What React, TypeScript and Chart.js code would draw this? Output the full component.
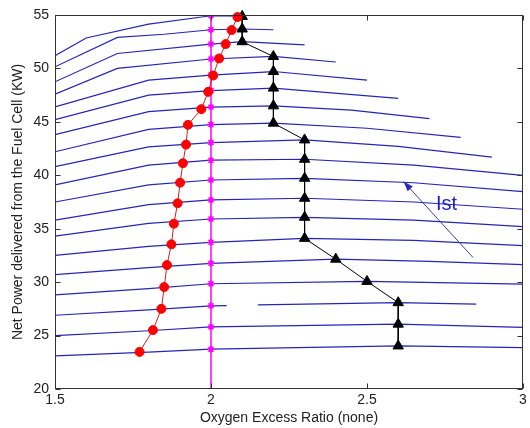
import React, { useEffect, useRef } from "react";
import { Chart, registerables } from "chart.js";

Chart.register(...registerables);

// ---- axes ----
const xTicks = [1.5, 2, 2.5, 3];
const yTicks = [20, 25, 30, 35, 40, 45, 50, 55];
const xTitle = "Oxygen Excess Ratio (none)";
const yTitle = "Net Power delivered from the Fuel Cell (KW)";

// ---- blue curves: one per stack current level, [oxygen ratio, net power] ----
const ist01 = [[1.5, 51.2], [1.6, 52.85], [1.8, 54.15], [2.0, 54.93], [2.1, 54.9]];
const ist02 = [[1.5, 50.15], [1.7, 52.9], [1.85, 53.2], [2.0, 53.62], [2.1, 53.69], [2.2, 53.62]];
const ist03 = [[1.5, 48.75], [1.7, 51.4], [2.0, 52.28], [2.1, 52.5], [2.3, 52.2]];
const ist04 = [[1.5, 47.6], [1.7, 50.0], [2.0, 50.88], [2.2, 51.12], [2.4, 50.6]];
const ist05 = [[1.5, 46.4], [1.8, 48.9], [2.0, 49.38], [2.2, 49.71], [2.5, 48.9]];
const ist06 = [[1.5, 45.2], [1.8, 47.5], [2.0, 47.93], [2.2, 48.16], [2.6, 47.2]];
const ist07 = [[1.5, 43.8], [1.8, 45.95], [2.0, 46.38], [2.2, 46.5], [2.45, 46.1], [2.7, 45.3]];
const ist08 = [[1.5, 42.2], [1.8, 44.3], [2.0, 44.75], [2.2, 44.88], [2.5, 44.4], [2.8, 43.55]];
const ist09 = [[1.5, 40.8], [1.8, 42.65], [2.0, 43.06], [2.3, 43.31], [2.6, 42.7], [2.9, 41.7]];
const ist10 = [[1.5, 39.1], [1.8, 40.95], [2.0, 41.41], [2.3, 41.5], [2.65, 40.95], [3.0, 40.0]];
const ist11 = [[1.5, 37.5], [1.8, 39.1], [2.0, 39.56], [2.3, 39.72], [2.65, 39.3], [3.0, 38.47]];
const ist12 = [[1.5, 35.8], [1.8, 37.25], [2.0, 37.69], [2.3, 37.85], [2.65, 37.5], [3.0, 36.82]];
const ist13 = [[1.5, 34.3], [1.8, 35.5], [2.0, 35.91], [2.3, 36.07], [2.65, 35.8], [3.0, 35.19]];
const ist14 = [[1.5, 32.5], [1.8, 33.35], [2.0, 33.73], [2.3, 34.1], [2.65, 33.9], [3.0, 33.41]];
const ist15 = [[1.5, 30.7], [1.8, 31.35], [2.0, 31.76], [2.4, 32.15], [2.7, 31.95], [3.0, 31.63]];
const ist16 = [[1.5, 28.8], [1.8, 29.4], [2.0, 29.85], [2.5, 30.07], [3.0, 29.82]];
const ist17 = [[1.5, 26.9], [1.8, 27.4], [2.0, 27.78], [2.05, 27.8], [2.1, null], [2.15, 27.88], [2.6, 28.08], [2.85, 27.94]];
const ist18 = [[1.5, 25.0], [1.8, 25.45], [2.0, 25.81], [2.6, 26.07], [3.0, 25.76]];
const ist19 = [[1.5, 23.1], [1.8, 23.45], [2.0, 23.73], [2.6, 24.03], [3.0, 23.88]];
const powerCurves = [ist01, ist02, ist03, ist04, ist05, ist06, ist07, ist08, ist09, ist10,
  ist11, ist12, ist13, ist14, ist15, ist16, ist17, ist18, ist19];

// ---- red circles ----
const redX = [2.085, 2.066, 2.047, 2.026, 2.007, 1.991, 1.969, 1.926, 1.92, 1.91,
  1.901, 1.893, 1.881, 1.873, 1.859, 1.85, 1.841, 1.814, 1.771];
const redY = [54.81, 53.59, 52.28, 50.93, 49.34, 47.81, 46.19, 44.72, 42.87, 41.13,
  39.31, 37.38, 35.47, 33.54, 31.6, 29.54, 27.5, 25.51, 23.47];

// ---- magenta stars at ratio 2 ----
const magentaX = 2;
const magentaLineY = [20, 55];
const magentaY = [54.93, 53.62, 52.28, 50.88, 49.38, 47.93, 46.38, 44.75, 43.06, 41.41,
  39.56, 37.69, 35.91, 33.73, 31.76, 29.85, 27.78, 25.81, 23.73];

// ---- black triangles (maximum net power) ----
const triX = [2.1, 2.1, 2.1, 2.2, 2.2, 2.2, 2.2, 2.2, 2.3, 2.3,
  2.3, 2.3, 2.3, 2.3, 2.4, 2.5, 2.6, 2.6, 2.6];
const triY = [54.87, 53.69, 52.5, 51.12, 49.71, 48.16, 46.5, 44.88, 43.31, 41.5,
  39.72, 37.85, 36.07, 34.1, 32.15, 30.07, 28.08, 26.07, 24.03];

// ---- annotation ----
const arrowTail = [2.84, 32.3];
const arrowTip = [2.617, 39.42];
const labelPos = [2.755, 37.24];
const labelText = "Ist";

const FONT = "'Liberation Sans', Arial, Helvetica, sans-serif";

const framePlugin = {
  id: "frame",
  afterDatasetsDraw(chart: any) {
    const { ctx, chartArea: a, scales } = chart;
    const xs = scales.x;
    const ys = scales.y;
    ctx.save();
    // arrow annotation
    const tx = xs.getPixelForValue(arrowTail[0]);
    const ty = ys.getPixelForValue(arrowTail[1]);
    const hx = xs.getPixelForValue(arrowTip[0]);
    const hy = ys.getPixelForValue(arrowTip[1]);
    ctx.strokeStyle = "#3a3ab4";
    ctx.fillStyle = "#2a2ac0";
    ctx.lineWidth = 1;
    ctx.beginPath();
    ctx.moveTo(tx, ty);
    ctx.lineTo(hx, hy);
    ctx.stroke();
    const ang = Math.atan2(hy - ty, hx - tx);
    const L = 10, W = 3.5;
    const bx = hx - L * Math.cos(ang), by = hy - L * Math.sin(ang);
    ctx.beginPath();
    ctx.moveTo(hx, hy);
    ctx.lineTo(bx + W * Math.sin(ang), by - W * Math.cos(ang));
    ctx.lineTo(bx - W * Math.sin(ang), by + W * Math.cos(ang));
    ctx.closePath();
    ctx.fill();
    ctx.fillStyle = "#1c1cd0";
    ctx.font = `20px ${FONT}`;
    ctx.textAlign = "center";
    ctx.textBaseline = "middle";
    ctx.fillText(labelText, xs.getPixelForValue(labelPos[0]), ys.getPixelForValue(labelPos[1]));

    // box and inward ticks
    ctx.strokeStyle = "#333";
    ctx.lineWidth = 1;
    const l = Math.round(a.left) + 0.5, r = Math.round(a.right) - 0.5;
    const t = Math.round(a.top) + 0.5, b = Math.round(a.bottom) - 0.5;
    ctx.strokeRect(l, t, r - l, b - t);
    const tl = 5;
    ctx.beginPath();
    xTicks.forEach((v) => {
      const p = Math.round(xs.getPixelForValue(v)) + 0.5;
      ctx.moveTo(p, b); ctx.lineTo(p, b - tl);
      ctx.moveTo(p, t); ctx.lineTo(p, t + tl);
    });
    yTicks.forEach((v) => {
      const p = Math.round(ys.getPixelForValue(v)) + 0.5;
      ctx.moveTo(l, p); ctx.lineTo(l + tl, p);
      ctx.moveTo(r, p); ctx.lineTo(r - tl, p);
    });
    ctx.stroke();
    ctx.restore();
  },
};

export default function App() {
  const ref = useRef<HTMLCanvasElement | null>(null);
  useEffect(() => {
    if (!ref.current) return;
    const curveSets = powerCurves.map((c) => ({
      data: c.map(([x, y]) => ({ x, y })),
      borderColor: "#2626b4",
      borderWidth: 1.2,
      pointRadius: 0,
      showLine: true,
      spanGaps: false,
      order: 10,
    }));
    const chart = new Chart(ref.current, {
      type: "line",
      data: {
        datasets: [
          ...curveSets,
          {
            data: magentaLineY.map((y) => ({ x: magentaX, y })),
            borderColor: "#ff00ff",
            borderWidth: 1.5,
            pointRadius: 0,
            order: 4,
          },
          {
            data: magentaY.map((y) => ({ x: magentaX, y })),
            showLine: false,
            pointStyle: "star",
            pointRadius: 3.5,
            pointBorderColor: "#ff00ff",
            pointBackgroundColor: "#ff00ff",
            pointBorderWidth: 1.5,
            order: 3,
          },
          {
            data: triX.map((x, i) => ({ x, y: triY[i] })),
            borderColor: "#000",
            borderWidth: 1,
            pointStyle: "triangle",
            pointRadius: 6,
            pointBackgroundColor: "#000",
            pointBorderColor: "#000",
            clip: false,
            order: 1,
          },
          {
            data: redX.map((x, i) => ({ x, y: redY[i] })),
            borderColor: "#cc2020",
            borderWidth: 1,
            pointStyle: "circle",
            pointRadius: 4.5,
            pointBackgroundColor: "#ff0000",
            pointBorderColor: "#ff0000",
            clip: false,
            order: 0,
          },
        ] as any,
      },
      options: {
        animation: false,
        responsive: false,
        maintainAspectRatio: false,
        events: [],
        layout: { padding: { left: 0, right: 3, top: 15, bottom: 0 } },
        plugins: { legend: { display: false }, tooltip: { enabled: false } },
        elements: { line: { tension: 0 } },
        scales: {
          x: {
            type: "linear",
            min: 1.5,
            max: 3,
            grid: { display: false, drawTicks: false },
            border: { display: false },
            afterBuildTicks: (s: any) => { s.ticks = xTicks.map((v) => ({ value: v })); },
            ticks: {
              font: { family: FONT, size: 14 },
              color: "#222",
              padding: 3,
              maxRotation: 0,
              callback: (v: any) => String(v),
            },
            title: {
              display: true,
              text: xTitle,
              font: { family: FONT, size: 14 },
              color: "#222",
              padding: { top: 0, bottom: 1 },
            },
            afterFit: (s: any) => { s.height = 39; s.paddingLeft = 0; s.paddingRight = 0; },
          },
          y: {
            type: "linear",
            min: 20,
            max: 55,
            grid: { display: false, drawTicks: false },
            border: { display: false },
            afterBuildTicks: (s: any) => { s.ticks = yTicks.map((v) => ({ value: v })); },
            ticks: {
              font: { family: FONT, size: 14 },
              color: "#222",
              padding: 6,
              callback: (v: any) => String(v),
            },
            title: {
              display: true,
              text: yTitle,
              font: { family: FONT, size: 14 },
              color: "#222",
              padding: { top: 10, bottom: 0 },
            },
            afterFit: (s: any) => { s.width = 55; s.paddingTop = 0; s.paddingBottom = 0; },
          },
        },
      } as any,
      plugins: [framePlugin],
    });
    return () => chart.destroy();
  }, []);
  return (
    <div style={{ position: "absolute", left: 0, top: 0, width: 530, height: 428, background: "#fff" }}>
      <canvas ref={ref} width={530} height={428} style={{ width: 530, height: 428 }} />
    </div>
  );
}
